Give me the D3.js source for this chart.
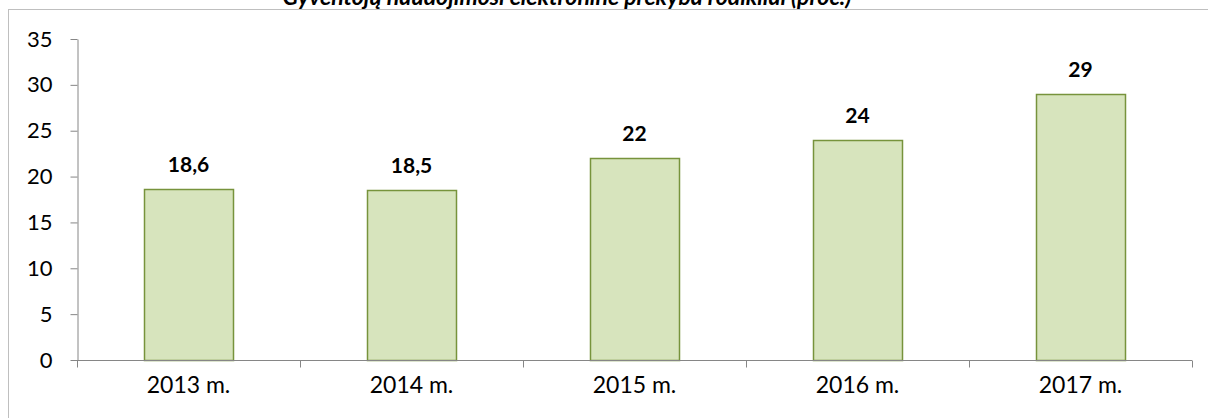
<!DOCTYPE html>
<html><head><meta charset="utf-8">
<script src="https://cdn.jsdelivr.net/npm/d3@7"></script>
<style>body{margin:0;background:#fff}svg{display:block}</style>
</head><body>
<script>
const categories = ["2013 m.", "2014 m.", "2015 m.", "2016 m.", "2017 m."];
const values = [18.6, 18.5, 22, 24, 29];
const valueLabels = ["18,6", "18,5", "22", "24", "29"];
const yTicks = [0, 5, 10, 15, 20, 25, 30, 35];
const title = "Gyventojų naudojimosi elektronine prekyba rodikliai (proc.)";

const W = 1208, H = 418;
const font = "Lato, 'Open Sans', sans-serif";
const svg = d3.select("body").append("svg").attr("width", W).attr("height", H);

svg.append("rect").attr("x", 8.5).attr("y", 9.5).attr("width", 1210).attr("height", 420)
  .attr("fill", "none").attr("stroke", "#bfbfbf").attr("stroke-width", 1);

svg.append("text").attr("x", 567).attr("y", 5).attr("text-anchor", "middle")
  .attr("font-family", font).attr("font-size", 23).attr("font-weight", "bold").attr("font-style", "italic")
  .attr("fill", "#000").text(title);

const x = d3.scaleBand().domain(categories).range([77, 1192]).paddingInner(0.6).paddingOuter(0.3);
const y = d3.scaleLinear().domain([0, 35]).range([360, 39]);

// bars
svg.selectAll("rect.bar").data(values).join("rect").attr("class", "bar")
  .attr("x", (d, i) => Math.round(x(categories[i])) + 0.5)
  .attr("y", d => Math.round(y(d)) + 0.5)
  .attr("width", Math.round(x.bandwidth()))
  .attr("height", d => Math.round(y(0)) - Math.round(y(d)))
  .attr("fill", "#d7e4bd").attr("stroke", "#77933c").attr("stroke-width", 1.5);

// y axis
const yAxis = svg.append("g").attr("transform", "translate(77.5,0)")
  .call(d3.axisLeft(y).tickValues(yTicks).tickSize(7).tickPadding(18).tickSizeOuter(0));
yAxis.select(".domain").attr("stroke", "#868686");
yAxis.selectAll(".tick line").attr("stroke", "#868686");
yAxis.selectAll(".tick text").attr("font-family", font).attr("font-size", 22).attr("fill", "#000");

// x axis
const xAxis = svg.append("g").attr("transform", "translate(0," + (Math.round(y(0)) + 0.5) + ")");
xAxis.append("line").attr("x1", 77).attr("x2", 1192).attr("stroke", "#868686");
const bounds = d3.range(categories.length + 1).map(i => x.range()[0] + i * x.step());
xAxis.selectAll("line.tk").data(bounds).join("line").attr("class", "tk")
  .attr("x1", d => Math.round(d) + 0.5).attr("x2", d => Math.round(d) + 0.5)
  .attr("y1", 0).attr("y2", 7).attr("stroke", "#868686");
xAxis.selectAll("text").data(categories).join("text")
  .attr("x", d => x(d) + x.bandwidth() / 2).attr("y", 32).attr("text-anchor", "middle")
  .attr("font-family", font).attr("font-size", 23).attr("fill", "#000").text(d => d);

// value labels
svg.selectAll("text.val").data(values).join("text").attr("class", "val")
  .attr("x", (d, i) => x(categories[i]) + x.bandwidth() / 2)
  .attr("y", d => y(d) - 17).attr("text-anchor", "middle")
  .attr("font-family", font).attr("font-size", 21).attr("font-weight", "bold").attr("fill", "#000")
  .text((d, i) => valueLabels[i]);
</script>
</body></html>
